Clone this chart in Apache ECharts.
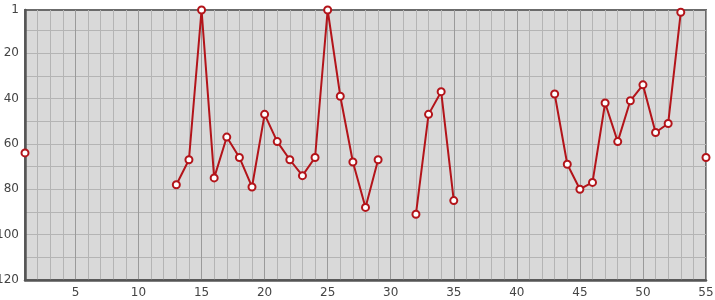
<!DOCTYPE html>
<html>
<head>
<meta charset="utf-8">
<script src="https://cdn.jsdelivr.net/npm/echarts@6/dist/echarts.min.js"></script>
<style>html,body{margin:0;padding:0;background:#fff}#c{width:715px;height:300px}</style>
</head>
<body>
<div id="c"></div>
<script>
// x positions (1..55)
var xValues = [1,2,3,4,5,6,7,8,9,10,11,12,13,14,15,16,17,18,19,20,21,22,23,24,25,26,27,28,29,30,31,32,33,34,35,36,37,38,39,40,41,42,43,44,45,46,47,48,49,50,51,52,53,54,55];
// rank values (null = gap)
var ranks = [64,null,null,null,null,null,null,null,null,null,null,null,78,67,1,75,57,66,79,47,59,67,74,66,1,39,68,88,67,null,null,91,47,37,85,null,null,null,null,null,null,null,38,69,80,77,42,59,41,34,55,51,2,null,66];
var xTickLabels = [5,10,15,20,25,30,35,40,45,50,55];
var yTickLabels = [1,20,40,60,80,100,120];
var yGridValues = [10,20,30,40,50,60,70,80,90,100,110];
var xMinorGrid = xValues;

var data = xValues.map(function(x,i){ return [x, ranks[i] === null ? '-' : ranks[i]]; });

var chart = echarts.init(document.getElementById('c'));
chart.setOption({
  animation: false,
  grid: { left: 25, right: 9, top: 10, bottom: 20, containLabel: false, outerBoundsMode: 'none', show: true, backgroundColor: '#d9d9d9', borderColor: '#6b6b6b', borderWidth: 2 },
  xAxis: [{
    type: 'value', min: 1, max: 55,
    axisLine: { show: true, onZero: false, lineStyle: { color: '#555', width: 2.5 } },
    axisTick: { show: false, customValues: xMinorGrid },
    axisLabel: { customValues: xTickLabels, color: '#444', fontSize: 12, fontFamily: 'DejaVu Sans', margin: 7 },
    splitLine: { show: true, lineStyle: { color: '#b4b4b4', width: 1 } }
  }, {
    type: 'value', min: 1, max: 55, position: 'bottom',
    axisLine: { show: false }, axisLabel: { show: false },
    axisTick: { show: false, customValues: xTickLabels },
    splitLine: { show: true, lineStyle: { color: '#9a9a9a', width: 1 } }
  }],
  yAxis: {
    type: 'value', min: 1, max: 120, inverse: true,
    axisLine: { show: true, onZero: false, lineStyle: { color: '#555', width: 2.5 } },
    axisTick: { show: false, customValues: yGridValues },
    axisLabel: { customValues: yTickLabels, color: '#444', fontSize: 12, fontFamily: 'DejaVu Sans', margin: 6 },
    splitLine: { show: true, lineStyle: { color: '#b4b4b4', width: 1 } }
  },
  series: [{
    type: 'line', data: data, connectNulls: false, xAxisIndex: 0,
    symbol: 'emptyCircle', symbolSize: 7,
    lineStyle: { color: '#b3141a', width: 2 },
    itemStyle: { color: '#b3141a', borderColor: '#b3141a', borderWidth: 2 },
    z: 5
  }]
});
</script>
</body>
</html>
